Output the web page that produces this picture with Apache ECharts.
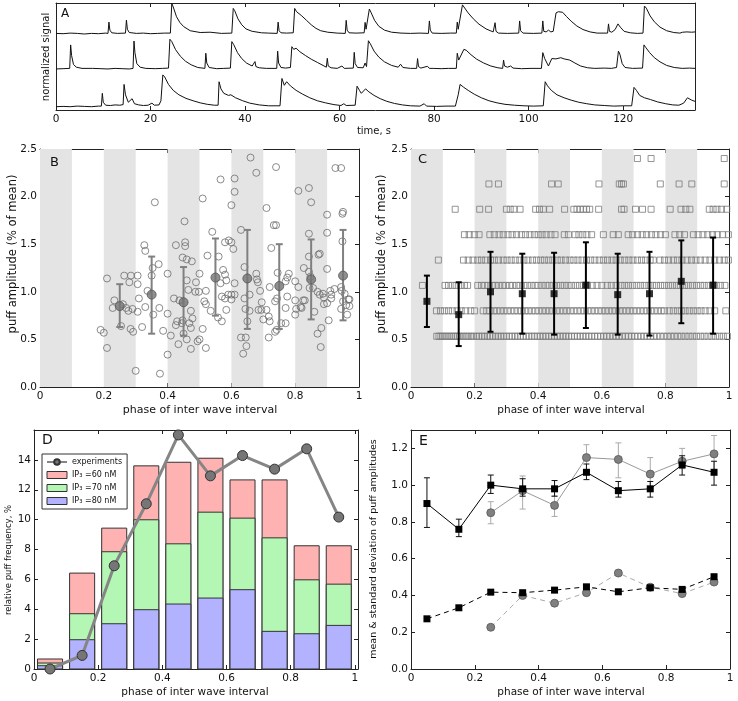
<!DOCTYPE html>
<html><head><meta charset="utf-8">
<script src="https://cdn.jsdelivr.net/npm/echarts@6/dist/echarts.min.js"></script>
<style>html,body{margin:0;padding:0;background:#fff}#c{width:738px;height:701px}</style>
</head><body><div id="c"></div><script>
// ---------------- DATA ----------------
// Panel A: three normalized fluorescence traces, [time s, signal]
const trace1 = [[0,0.01],[1.5,0.0],[3,0.02],[4.5,0.01],[6,-0.01],[7.5,0.01],[9,0.0],[10.5,0.02],[11.0,0.01],[11.2,0.39],[11.4,0.12],[11.8,0.03],[13,0.01],[14.7,0.02],[14.9,0.46],[15.1,0.15],[15.5,0.04],[17,0.01],[18.5,0.02],[20,0.0],[21.5,0.01],[23,0.02],[24.2,0.02],[24.5,1.02],[24.8,0.9],[25.5,0.57],[26.2,0.38],[27,0.24],[28.4,0.10],[30.5,0.04],[32.6,0.05],[33,0.02],[35,0.01],[37.2,0.02],[37.5,0.85],[37.8,0.78],[38.5,0.5],[39.3,0.3],[40.2,0.16],[41.5,0.08],[43.5,0.03],[45,0.02],[46.8,0.01],[47.0,0.39],[47.2,0.1],[47.6,0.03],[48.8,0.02],[50.2,0.03],[50.5,0.85],[50.9,0.74],[51.3,0.79],[52,0.6],[53,0.45],[54,0.3],[55,0.18],[56,0.1],[57.5,0.05],[59.5,0.02],[61.2,0.01],[61.4,0.45],[61.6,0.12],[62,0.03],[63.5,0.02],[65.2,0.03],[65.4,0.38],[65.6,0.15],[66.0,0.2],[66.3,0.83],[66.7,0.7],[67.4,0.45],[68.3,0.25],[69.5,0.12],[71,0.05],[73,0.02],[75,0.01],[77,0.02],[78.8,0.01],[79.0,0.43],[79.2,0.12],[79.6,0.02],[81.5,0.01],[83.5,0.02],[84.7,0.02],[84.9,0.39],[85.1,0.15],[85.5,0.18],[86.0,0.97],[86.4,0.92],[87.2,0.7],[88.3,0.5],[89.5,0.32],[91,0.16],[92.5,0.06],[92.7,0.03],[92.9,0.37],[93.1,0.08],[93.6,0.02],[95.5,0.01],[97.9,0.02],[98.1,0.43],[98.3,0.1],[98.8,0.02],[101,0.01],[102.8,0.02],[103.0,0.43],[103.2,0.08],[103.7,0.06],[104.2,0.12],[104.7,0.06],[105.2,0.08],[105.8,0.7],[106.3,0.74],[107.2,0.72],[108,0.58],[109,0.42],[110.2,0.26],[111.5,0.14],[113,0.06],[114.5,0.02],[116.7,0.02],[116.9,0.33],[117.1,0.08],[117.6,0.05],[118.3,0.14],[118.9,0.33],[119.4,0.22],[120.2,0.08],[121.5,0.03],[123,0.01],[124.2,0.02],[124.5,0.93],[124.9,0.86],[125.7,0.6],[126.6,0.4],[127.8,0.22],[129.2,0.1],[130.7,0.04],[132,0.02],[132.6,0.05],[133.5,0.06],[134.5,0.05],[135.2,0.06]];
const trace2 = [[0,0.0],[1.5,0.01],[2.9,0.02],[3.1,0.81],[3.3,0.45],[3.7,0.15],[4.3,0.06],[5.5,0.02],[7.0,0.02],[7.3,0.08],[7.7,0.02],[9.5,0.01],[11,0.0],[12.5,0.02],[14,0.01],[15.5,0.0],[16.3,0.02],[16.5,0.94],[16.7,0.55],[17.1,0.18],[17.8,0.06],[19,0.02],[21,0.01],[22.5,0.02],[23.8,0.03],[24.1,1.0],[24.5,0.92],[25.3,0.65],[26.3,0.43],[27.4,0.26],[28.6,0.14],[30,0.05],[31.5,0.02],[31.7,0.53],[31.9,0.2],[32.4,0.05],[34,0.01],[35.5,0.02],[36.9,0.03],[37.2,0.92],[37.6,0.82],[38.4,0.55],[39.3,0.35],[40.3,0.2],[41.5,0.1],[41.9,0.06],[42.1,0.25],[42.3,0.08],[43,0.04],[44.5,0.02],[46.7,0.02],[46.9,0.6],[47.1,0.2],[47.6,0.05],[48.6,0.03],[49.6,0.05],[49.9,0.75],[50.3,0.66],[50.8,0.7],[51.6,0.58],[52.8,0.45],[54,0.33],[55.3,0.22],[56.5,0.12],[57.2,0.06],[57.4,0.36],[57.6,0.1],[58.2,0.04],[59.5,0.02],[60.5,0.1],[61,0.02],[62.9,0.03],[63.1,0.56],[63.3,0.18],[63.8,0.05],[65,0.04],[65.4,0.2],[65.7,0.08],[66.1,0.95],[66.5,0.85],[67.3,0.6],[68.3,0.4],[69.5,0.24],[71,0.12],[72.4,0.06],[72.9,0.16],[73.4,0.05],[75,0.02],[76.3,0.02],[76.5,0.35],[76.7,0.08],[77.2,0.03],[78.6,0.09],[79,0.02],[79.4,0.08],[79.8,0.02],[81.5,0.01],[83,0.02],[84.7,0.02],[84.9,0.53],[85.2,0.3],[85.6,0.35],[86.3,0.66],[86.8,0.63],[87.8,0.48],[89,0.33],[90.5,0.2],[92,0.1],[93.5,0.04],[94.5,0.02],[94.7,0.3],[94.9,0.1],[95.5,0.06],[96.2,0.1],[96.7,0.03],[98.5,0.01],[100.5,0.02],[102.7,0.02],[103.0,0.55],[103.4,0.35],[104.2,0.1],[104.9,0.35],[105.8,0.34],[106.8,0.38],[107.5,0.34],[108.7,0.3],[109.8,0.2],[111,0.1],[112.5,0.04],[114,0.02],[116,0.03],[117.5,0.02],[118.6,0.05],[119.0,0.6],[119.3,0.5],[119.8,0.18],[120.4,0.05],[122,0.02],[124.1,0.03],[124.4,0.81],[124.8,0.72],[125.6,0.55],[126.6,0.38],[127.8,0.24],[129.2,0.12],[130.8,0.05],[132.5,0.02],[134,0.03],[135.2,0.02]];
const trace3 = [[0,0.0],[1.5,0.01],[3,0.0],[4.5,0.02],[6,0.01],[7.5,0.0],[9,0.02],[9.6,0.02],[9.8,0.45],[10.0,0.15],[10.5,0.05],[11.5,0.04],[12.5,0.06],[13.5,0.05],[14.2,0.07],[14.4,0.75],[14.7,0.4],[15.3,0.15],[16.1,0.27],[16.6,0.1],[17.5,0.06],[18.5,0.04],[19.5,0.05],[20.3,0.12],[20.8,0.05],[21.8,0.06],[22.2,0.2],[22.6,1.07],[23.0,1.0],[23.8,0.75],[24.8,0.55],[26,0.4],[27.5,0.28],[29,0.2],[30.5,0.13],[32,0.08],[33.5,0.05],[34.3,0.05],[34.5,0.84],[34.9,0.6],[35.5,0.45],[36.5,0.38],[37,0.4],[38,0.3],[39.5,0.2],[41,0.12],[43,0.06],[45,0.03],[47.4,0.03],[47.8,0.95],[48.3,0.72],[48.8,0.84],[49.6,0.7],[50.8,0.55],[52.2,0.42],[53.7,0.3],[55.3,0.2],[57,0.13],[58.8,0.07],[60.3,0.04],[60.9,0.1],[61.4,0.04],[63.3,0.05],[63.7,0.69],[64.2,0.55],[64.6,0.45],[65.5,0.6],[66.2,0.5],[67.3,0.38],[68.6,0.27],[70,0.18],[71.6,0.11],[73.3,0.06],[75,0.03],[77,0.02],[77.9,0.1],[78.4,0.02],[80.5,0.01],[82.5,0.02],[84.5,0.02],[85.1,0.4],[85.5,0.75],[86.2,0.66],[87.2,0.55],[88.5,0.42],[90,0.3],[91.6,0.2],[93.3,0.13],[95,0.08],[97,0.05],[99,0.03],[101,0.02],[103.1,0.03],[103.5,0.84],[104,0.7],[104.8,0.55],[106,0.4],[107.5,0.3],[109,0.22],[110.6,0.15],[112.3,0.1],[114,0.06],[116,0.04],[118,0.02],[120,0.03],[121.8,0.03],[122.3,0.65],[122.8,0.55],[123.5,0.38],[124.5,0.3],[125.8,0.24],[127.3,0.16],[129,0.1],[130.5,0.06],[131.8,0.05],[132.8,0.12],[133.6,0.3],[134.0,0.34],[134.5,0.22],[135.2,0.18]];
const timeTicks = [0,20,40,60,80,100,120];

// Panel B: experimental puffs [phase, amplitude]
const expPuffs = [[0.19,0.60],[0.20,0.57],[0.21,1.14],[0.21,0.41],[0.233,0.91],[0.228,0.83],[0.264,1.17],[0.285,1.17],[0.28,1.10],[0.306,1.17],[0.306,1.08],[0.26,0.87],[0.27,0.83],[0.277,0.80],[0.29,0.82],[0.306,0.79],[0.254,0.64],[0.284,0.61],[0.292,0.58],[0.30,0.17],[0.31,0.93],[0.327,1.49],[0.33,1.43],[0.337,1.01],[0.33,0.84],[0.32,0.63],[0.353,1.25],[0.35,1.17],[0.36,1.94],[0.355,0.76],[0.372,1.29],[0.374,0.83],[0.386,0.59],[0.376,0.14],[0.40,1.19],[0.40,0.77],[0.40,0.34],[0.41,0.54],[0.426,1.49],[0.42,0.93],[0.434,0.45],[0.437,0.91],[0.447,1.36],[0.455,1.52],[0.455,1.48],[0.453,1.74],[0.45,0.56],[0.46,1.34],[0.46,1.12],[0.465,1.02],[0.476,1.32],[0.447,0.70],[0.445,0.67],[0.43,0.69],[0.426,0.65],[0.46,0.50],[0.468,0.67],[0.473,0.62],[0.473,0.40],[0.473,0.80],[0.478,0.72],[0.487,1.00],[0.489,1.10],[0.494,0.48],[0.50,0.50],[0.50,1.19],[0.498,1.0],[0.51,1.98],[0.515,0.90],[0.52,0.87],[0.52,1.01],[0.535,0.80],[0.51,0.61],[0.52,0.41],[0.54,1.63],[0.525,1.38],[0.56,1.37],[0.566,2.18],[0.558,0.73],[0.57,0.69],[0.566,1.09],[0.574,1.23],[0.58,1.52],[0.592,1.54],[0.60,1.52],[0.606,1.45],[0.58,1.18],[0.584,1.12],[0.57,0.95],[0.58,0.93],[0.584,0.81],[0.59,0.97],[0.60,0.97],[0.61,0.97],[0.60,0.92],[0.61,2.19],[0.61,2.05],[0.60,1.91],[0.61,1.09],[0.63,1.65],[0.63,0.52],[0.645,0.52],[0.647,0.43],[0.637,0.35],[0.641,1.26],[0.641,0.93],[0.644,0.82],[0.65,0.69],[0.657,0.97],[0.66,2.41],[0.657,0.80],[0.678,2.25],[0.678,1.19],[0.68,1.13],[0.683,1.10],[0.685,0.81],[0.69,1.01],[0.695,0.89],[0.694,0.81],[0.70,0.71],[0.71,1.88],[0.71,0.81],[0.717,0.74],[0.72,1.05],[0.717,0.52],[0.72,0.69],[0.725,1.46],[0.733,1.70],[0.74,1.70],[0.74,2.31],[0.737,0.90],[0.737,0.58],[0.742,0.60],[0.745,1.20],[0.743,0.93],[0.756,0.67],[0.77,0.67],[0.77,0.83],[0.77,1.11],[0.775,1.15],[0.78,1.19],[0.775,0.95],[0.80,1.11],[0.80,0.91],[0.803,0.82],[0.80,0.76],[0.81,2.06],[0.81,1.05],[0.817,0.84],[0.82,0.83],[0.825,0.91],[0.83,0.91],[0.827,1.25],[0.843,2.09],[0.85,1.94],[0.843,1.61],[0.843,1.37],[0.843,1.21],[0.848,1.16],[0.845,1.04],[0.856,1.04],[0.86,0.79],[0.87,0.56],[0.87,1.00],[0.873,1.39],[0.877,1.40],[0.877,0.97],[0.882,0.62],[0.887,0.98],[0.88,0.42],[0.89,0.94],[0.89,0.87],[0.90,1.24],[0.90,1.62],[0.90,1.81],[0.90,0.88],[0.905,0.70],[0.91,1.01],[0.913,0.93],[0.913,0.97],[0.923,1.03],[0.926,2.30],[0.944,2.30],[0.95,1.84],[0.948,1.82],[0.948,1.53],[0.944,1.05],[0.946,1.01],[0.944,0.82],[0.955,0.98],[0.96,0.86],[0.963,0.76],[0.967,0.92],[0.97,0.85],[0.97,0.92],[0.95,0.90]];
const expPhase = [0.25,0.35,0.45,0.55,0.65,0.75,0.85,0.95];
const expMean  = [0.85,0.97,0.89,1.15,1.14,1.06,1.13,1.17];
const expLow   = [0.63,0.56,0.54,0.75,0.61,0.61,0.71,0.70];
const expHigh  = [1.08,1.37,1.26,1.56,1.65,1.50,1.55,1.65];

// Panel C: simulated puffs, amplitudes are quantized levels; phases per level
const simLevels = [0.533,0.8,1.067,1.333,1.6,1.867,2.133,2.4];
const simPhases = [
 [0.081,0.088,0.094,0.1,0.107,0.113,0.12,0.126,0.133,0.139,0.146,0.152,0.16,0.167,0.175,0.182,0.19,0.197,0.206,0.214,0.223,0.231,0.24,0.248,0.257,0.266,0.274,0.283,0.292,0.3,0.309,0.318,0.327,0.335,0.344,0.353,0.362,0.371,0.38,0.388,0.397,0.406,0.415,0.424,0.433,0.442,0.451,0.46,0.469,0.478,0.487,0.496,0.505,0.514,0.523,0.532,0.541,0.55,0.559,0.568,0.578,0.587,0.596,0.606,0.616,0.625,0.635,0.645,0.654,0.664,0.674,0.684,0.694,0.704,0.713,0.723,0.733,0.743,0.753,0.763,0.773,0.784,0.795,0.806,0.817,0.828,0.839,0.85,0.862,0.874,0.886,0.898,0.91,0.922,0.934,0.946,0.958,0.97,0.982,0.995],
 [0.08,0.093,0.105,0.118,0.13,0.145,0.158,0.172,0.188,0.2,0.227,0.238,0.248,0.26,0.27,0.281,0.292,0.303,0.314,0.325,0.336,0.347,0.358,0.369,0.38,0.391,0.402,0.413,0.424,0.435,0.446,0.457,0.468,0.479,0.49,0.501,0.512,0.523,0.534,0.545,0.556,0.567,0.578,0.589,0.6,0.611,0.622,0.633,0.644,0.655,0.666,0.677,0.688,0.699,0.71,0.721,0.732,0.743,0.754,0.765,0.776,0.787,0.797,0.812,0.825,0.838,0.85,0.862,0.875,0.888,0.9,0.912,0.925,0.94,0.955,0.99],
 [0.036,0.107,0.118,0.13,0.142,0.155,0.168,0.178,0.21,0.222,0.232,0.243,0.255,0.265,0.276,0.288,0.298,0.31,0.32,0.332,0.343,0.355,0.366,0.378,0.39,0.4,0.412,0.424,0.435,0.447,0.458,0.47,0.482,0.494,0.505,0.518,0.53,0.542,0.555,0.57,0.585,0.6,0.617,0.63,0.645,0.66,0.672,0.684,0.697,0.71,0.722,0.735,0.748,0.76,0.772,0.785,0.797,0.81,0.822,0.835,0.847,0.86,0.872,0.885,0.898,0.91,0.922,0.935,0.948,0.96,0.973,0.987],
 [0.086,0.165,0.18,0.195,0.21,0.222,0.235,0.25,0.262,0.275,0.29,0.302,0.315,0.328,0.342,0.355,0.368,0.382,0.395,0.408,0.42,0.433,0.446,0.46,0.472,0.486,0.5,0.512,0.525,0.538,0.552,0.565,0.578,0.592,0.605,0.618,0.632,0.645,0.658,0.672,0.685,0.698,0.712,0.725,0.738,0.752,0.762,0.783,0.797,0.81,0.825,0.838,0.852,0.868,0.882,0.896,0.91,0.925,0.94,0.955,0.97,0.985,0.998],
 [0.168,0.183,0.199,0.214,0.248,0.262,0.277,0.29,0.305,0.318,0.332,0.347,0.36,0.374,0.388,0.4,0.412,0.425,0.44,0.453,0.482,0.495,0.516,0.528,0.54,0.553,0.568,0.605,0.636,0.652,0.683,0.697,0.712,0.727,0.741,0.756,0.77,0.785,0.8,0.83,0.845,0.86,0.888,0.903,0.918,0.933,0.948,0.963,0.98,0.998],
 [0.139,0.216,0.244,0.30,0.312,0.324,0.343,0.392,0.404,0.416,0.436,0.483,0.512,0.522,0.532,0.542,0.552,0.562,0.59,0.662,0.67,0.706,0.728,0.755,0.815,0.849,0.864,0.877,0.938,0.95,0.962,0.976,0.993],
 [0.245,0.275,0.442,0.463,0.591,0.655,0.662,0.668,0.784,0.843,0.883,0.985],
 [0.712,0.755,0.985]
];
const simPhase = [0.05,0.15,0.25,0.35,0.45,0.55,0.65,0.75,0.85,0.95];
const simMean  = [0.90,0.76,1.00,0.98,0.98,1.07,0.97,0.98,1.11,1.07];
const simLow   = [0.63,0.43,0.58,0.56,0.55,0.62,0.55,0.54,0.67,0.56];
const simHigh  = [1.17,1.10,1.42,1.40,1.41,1.52,1.40,1.42,1.54,1.57];

// Panel D: relative puff frequency (%), bar tops (cumulative) and experiments
const freq60Top = [0.67,6.42,9.43,13.6,13.84,14.11,12.66,12.66,8.25,8.25];
const freq70Top = [0.40,3.70,7.85,9.99,8.38,10.5,10.1,8.78,5.97,5.68];
const freq80Top = [0.22,1.96,3.03,3.97,4.35,4.75,5.31,2.52,2.36,2.92];
const freqExp   = [0.0,0.91,6.91,11.06,15.67,12.93,14.29,13.38,14.74,10.17];

// Panel E: mean & std of puff amplitudes
const eSimLow  = [0.77,0.72,0.955,0.94,0.94,1.03,0.935,0.935,1.055,1.0];
const eSimHigh = [1.04,0.815,1.055,1.035,1.025,1.115,1.02,1.02,1.16,1.13];
const eExpLow  = [0.79,0.87,0.83,1.06,1.04,0.99,1.09,1.06];
const eExpHigh = [0.91,1.05,0.94,1.22,1.23,1.15,1.20,1.27];
const simStd = [0.273,0.333,0.418,0.415,0.429,0.447,0.42,0.442,0.433,0.502];
const expStd = [0.227,0.40,0.358,0.415,0.522,0.445,0.41,0.473];

// ---------------- CHART ----------------
const FONT = 'DejaVu Sans';
const AX = '#222';
const traceOffsets = [2.567, 1.38, 0.111];
const bands = [[0,0.1],[0.2,0.3],[0.4,0.5],[0.6,0.7],[0.8,0.9]];

const grids = [
  {left:56, top:3, width:639, height:107},
  {left:40, top:149, width:319, height:238},
  {left:411, top:149, width:318, height:238},
  {left:34, top:430, width:324, height:239},
  {left:411, top:430, width:319, height:239}
].map(g => Object.assign({outerBoundsMode:'none', containLabel:false, show:false}, g));

function phaseFmt(v){ if (Math.abs(v)<1e-9) return '0'; if (Math.abs(v-1)<1e-9) return '1'; const r=Math.round(v*5)/5; if (Math.abs(r-v)>1e-6) return ''; return v.toFixed(1); }
function stepFmt(step, dec){ return v => { const r = Math.round(v/step)*step; if (Math.abs(r-v)>1e-6) return ''; return v.toFixed(dec); }; }

const lineStyle = {color: AX, width: 1};
function mkX(gi, min, max, interval, fmt, pos, labels){
  return {type:'value', gridIndex:gi, min, max, interval, position:pos,
    axisLine:{show:true, onZero:false, lineStyle},
    axisTick:{show:true, inside:true, length:4, lineStyle},
    axisLabel:{show:labels, formatter:fmt, fontFamily:FONT, fontSize:10.5, color:'#111', margin:4, showMinLabel:true, showMaxLabel:true, hideOverlap:false},
    splitLine:{show:false}};
}
function mkY(gi, min, max, interval, fmt, pos, labels, ticks){
  return {type:'value', gridIndex:gi, min, max, interval, position:pos,
    axisLine:{show:true, onZero:false, lineStyle},
    axisTick:{show:ticks, inside:true, length:4, lineStyle},
    axisLabel:{show:labels, formatter:fmt, fontFamily:FONT, fontSize:10.5, color:'#111', margin:3, showMinLabel:true, showMaxLabel:true, hideOverlap:false},
    splitLine:{show:false}};
}
const timeFmt = v => timeTicks.indexOf(v) >= 0 ? String(v) : '';
const xAxis = [
  mkX(0,0,135.2,20,timeFmt,'bottom',true),
  mkX(1,0,1,0.2,phaseFmt,'bottom',true),
  mkX(2,0,1,0.2,phaseFmt,'bottom',true),
  mkX(3,0,1.01,0.2,phaseFmt,'bottom',true),
  mkX(4,0,1,0.2,phaseFmt,'bottom',true),
  mkX(0,0,135.2,20,timeFmt,'top',false),
  mkX(1,0,1,0.2,phaseFmt,'top',false),
  mkX(2,0,1,0.2,phaseFmt,'top',false),
  mkX(3,0,1.01,0.2,phaseFmt,'top',false),
  mkX(4,0,1,0.2,phaseFmt,'top',false)
];
const yAxis = [
  mkY(0,0,3.6,1,'', 'left',false,false),
  mkY(1,0,2.5,0.5,stepFmt(0.5,1),'left',true,true),
  mkY(2,0,2.5,0.5,stepFmt(0.5,1),'left',true,true),
  mkY(3,0,16,2,v => (v>15? '' : stepFmt(2,0)(v)),'left',true,true),
  mkY(4,0,1.3,0.2,stepFmt(0.2,1),'left',true,true),
  mkY(0,0,3.6,1,'', 'right',false,false),
  mkY(1,0,2.5,0.5,'','right',false,true),
  mkY(2,0,2.5,0.5,'','right',false,true),
  mkY(3,0,16,2,'','right',false,true),
  mkY(4,0,1.3,0.2,'','right',false,true)
];

function errRender(capHalf, color, lw){
  return function(params, api){
    const x = api.value(0), lo = api.value(1), hi = api.value(2);
    const p1 = api.coord([x, lo]), p2 = api.coord([x, hi]);
    const style = {stroke: color, lineWidth: lw, fill: null};
    return {type:'group', children:[
      {type:'line', shape:{x1:p1[0], y1:p1[1], x2:p2[0], y2:p2[1]}, style},
      {type:'line', shape:{x1:p1[0]-capHalf, y1:p1[1], x2:p1[0]+capHalf, y2:p1[1]}, style},
      {type:'line', shape:{x1:p2[0]-capHalf, y1:p2[1], x2:p2[0]+capHalf, y2:p2[1]}, style}
    ]};
  };
}
const BAR_W = 0.078;
function barRender(color){
  return function(params, api){
    const x = api.value(0), top = api.value(1);
    const a = api.coord([x - BAR_W/2, top]), b = api.coord([x + BAR_W/2, 0]);
    return {type:'rect', shape:{x:a[0], y:a[1], width:b[0]-a[0], height:b[1]-a[1]},
      style:{fill:color, stroke:'#333', lineWidth:1}};
  };
}
function bandSeries(gi){
  return {type:'line', xAxisIndex:gi, yAxisIndex:gi, data:[], z:0, silent:true,
    markArea:{silent:true, itemStyle:{color:'#e4e4e4', opacity:1},
      data: bands.map(b => [{xAxis:b[0]}, {xAxis:b[1]}])}};
}

const series = [];
// Panel A
[trace1, trace2, trace3].forEach((tr, i) => {
  series.push({type:'line', xAxisIndex:0, yAxisIndex:0, showSymbol:false, symbol:'none', silent:true,
    lineStyle:{color:'#111', width:1}, data: tr.map(p => [p[0], p[1] + traceOffsets[i]]), clip:true, z:3});
});
// Panel B
series.push(bandSeries(1));
series.push({type:'scatter', xAxisIndex:1, yAxisIndex:1, symbol:'circle', symbolSize:7, z:3, silent:true,
  itemStyle:{color:'rgba(0,0,0,0)', borderColor:'#6e6e6e', borderWidth:1}, data: expPuffs});
series.push({type:'custom', xAxisIndex:1, yAxisIndex:1, z:4, silent:true, renderItem: errRender(3.5,'#808080',2),
  encode:{x:0, y:[1,2]}, data: expPhase.map((x,i) => [x, expLow[i], expHigh[i]])});
series.push({type:'scatter', xAxisIndex:1, yAxisIndex:1, symbol:'circle', symbolSize:9, z:5, silent:true,
  itemStyle:{color:'#737373', borderColor:'#555', borderWidth:1}, data: expPhase.map((x,i) => [x, expMean[i]])});
// Panel C
series.push(bandSeries(2));
const simPts = [];
simLevels.forEach((lv, i) => simPhases[i].forEach(x => simPts.push([x, lv])));
series.push({type:'scatter', xAxisIndex:2, yAxisIndex:2, symbol:'rect', symbolSize:6, z:3, silent:true,
  itemStyle:{color:'rgba(0,0,0,0)', borderColor:'#7a7a7a', borderWidth:1}, data: simPts});
series.push({type:'custom', xAxisIndex:2, yAxisIndex:2, z:4, silent:true, renderItem: errRender(3,'#000',2),
  encode:{x:0, y:[1,2]}, data: simPhase.map((x,i) => [x, simLow[i], simHigh[i]])});
series.push({type:'scatter', xAxisIndex:2, yAxisIndex:2, symbol:'rect', symbolSize:7, z:5, silent:true,
  itemStyle:{color:'#000'}, data: simPhase.map((x,i) => [x, simMean[i]])});
// Panel D
const dCols = {'IP₃ =60 nM':'#ffb2b2', 'IP₃ =70 nM':'#b4f7b4', 'IP₃ =80 nM':'#b2b2ff'};
[['IP₃ =60 nM', freq60Top], ['IP₃ =70 nM', freq70Top], ['IP₃ =80 nM', freq80Top]].forEach(([nm, tops], k) => {
  series.push({type:'custom', name:nm, xAxisIndex:3, yAxisIndex:3, z:2+k, silent:true,
    itemStyle:{color:dCols[nm]}, renderItem: barRender(dCols[nm]),
    encode:{x:0, y:1}, data: simPhase.map((x,i) => [x, tops[i]])});
});
series.push({type:'line', name:'experiments', xAxisIndex:3, yAxisIndex:3, z:6, silent:true,
  symbol:'circle', symbolSize:10, showSymbol:true,
  lineStyle:{color:'#858585', width:3}, itemStyle:{color:'#767676', borderColor:'#333', borderWidth:1},
  data: simPhase.map((x,i) => [x, freqExp[i]])});
// Panel E
series.push({type:'custom', xAxisIndex:4, yAxisIndex:4, z:3, silent:true, renderItem: errRender(3,'#aaa',1),
  encode:{x:0, y:[1,2]}, data: expPhase.map((x,i) => [x, eExpLow[i], eExpHigh[i]])});
series.push({type:'line', xAxisIndex:4, yAxisIndex:4, z:4, silent:true, symbol:'circle', symbolSize:8,
  lineStyle:{color:'#999', width:1}, itemStyle:{color:'#808080', borderColor:'#555', borderWidth:0.8},
  data: expPhase.map((x,i) => [x, expMean[i]])});
series.push({type:'line', xAxisIndex:4, yAxisIndex:4, z:4, silent:true, symbol:'circle', symbolSize:8,
  lineStyle:{color:'#aaa', width:1, type:[5,4]}, itemStyle:{color:'#808080', borderColor:'#555', borderWidth:0.8},
  data: expPhase.map((x,i) => [x, expStd[i]])});
series.push({type:'custom', xAxisIndex:4, yAxisIndex:4, z:5, silent:true, renderItem: errRender(3,'#111',1),
  encode:{x:0, y:[1,2]}, data: simPhase.map((x,i) => [x, eSimLow[i], eSimHigh[i]])});
series.push({type:'line', xAxisIndex:4, yAxisIndex:4, z:6, silent:true, symbol:'rect', symbolSize:7,
  lineStyle:{color:'#000', width:1}, itemStyle:{color:'#000'},
  data: simPhase.map((x,i) => [x, simMean[i]])});
series.push({type:'line', xAxisIndex:4, yAxisIndex:4, z:6, silent:true, symbol:'rect', symbolSize:7,
  lineStyle:{color:'#000', width:1, type:[5,4]}, itemStyle:{color:'#000'},
  data: simPhase.map((x,i) => [x, simStd[i]])});

// Titles and panel letters (real text)
const titles = [
  ['normalized signal', 46, 57, true, 10],
  ['time, s', 374, 131, false, 10],
  ['puff amplitude (% of mean)', 13, 254, true, 11.5],
  ['phase of inter wave interval', 200, 410, false, 11],
  ['puff amplitude (% of mean)', 382, 254, true, 11.5],
  ['phase of inter wave interval', 571, 410, false, 10.5],
  ['relative puff frequency, %', 9, 560, true, 8.5],
  ['phase of inter wave interval', 195, 692, false, 10.5],
  ['mean & standard deviation of puff amplitudes', 374, 549, true, 9.5],
  ['phase of inter wave interval', 571, 692, false, 10.5]
];
const letters = [['A',61,8,12],['B',50,156,13],['C',418,153,13],['D',42,433,14],['E',419,434,14]];
const graphic = titles.map(t => ({type:'text', x:t[1], y:t[2], rotation: t[3] ? Math.PI/2 : 0,
  style:{text:t[0], font: t[4] + 'px "' + FONT + '"', fill:'#111', textAlign:'center', textVerticalAlign:'middle'}}))
  .concat(letters.map(l => ({type:'text', x:l[1], y:l[2], z:10,
  style:{text:l[0], font: l[3] + 'px "' + FONT + '"', fill:'#111', textAlign:'left', textVerticalAlign:'top'}})));

const chart = echarts.init(document.getElementById('c'), null, {renderer:'canvas', width:738, height:701});
chart.setOption({
  animation:false,
  backgroundColor:'#fff',
  grid: grids, xAxis, yAxis, series, graphic,
  legend:{show:true, orient:'vertical', left:42, top:454, padding:[4,5,4,4], itemGap:5,
    itemWidth:20, itemHeight:7, backgroundColor:'#fff', borderColor:'#333', borderWidth:1,
    textStyle:{fontFamily:FONT, fontSize:8, color:'#111'},
    data:[{name:'experiments'},
      {name:'IP₃ =60 nM', icon:'rect', itemStyle:{color:'#ffb2b2', borderColor:'#333', borderWidth:1}},
      {name:'IP₃ =70 nM', icon:'rect', itemStyle:{color:'#b4f7b4', borderColor:'#333', borderWidth:1}},
      {name:'IP₃ =80 nM', icon:'rect', itemStyle:{color:'#b2b2ff', borderColor:'#333', borderWidth:1}}]}
});
</script></body></html>
